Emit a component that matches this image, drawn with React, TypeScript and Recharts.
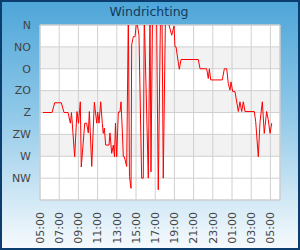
import React from "react";
import { LineChart, Line, XAxis, YAxis, CartesianGrid, ReferenceArea } from "recharts";

// hours after 05:00
const hours = [
  0.31, 1.25, 1.53, 2.22, 2.5, 2.92, 3.16, 3.28, 3.61, 3.85, 4.01, 4.2, 4.3, 4.66, 4.86, 5.03, 5.14, 5.39, 5.66, 5.91,
  6.01, 6.15, 6.32, 6.49, 6.59, 6.7, 6.84, 7.19, 7.29, 7.47, 7.64, 7.76, 7.86, 7.99, 8.16, 8.33, 8.44, 8.57, 8.68, 8.78,
  9.03, 9.2, 9.32, 9.48, 9.55, 9.72, 9.9, 10.07, 10.31, 10.59, 10.76, 10.86, 11.28, 11.46, 11.56, 11.72, 12.14, 12.32, 12.55, 12.71,
  12.84, 13.07, 13.47, 13.72, 13.96, 14.06, 14.17, 14.51, 14.69, 16.49, 16.67, 17.36, 17.53, 17.64, 17.78, 18.99, 19.2, 19.45, 19.61, 19.79,
  19.9, 20.07, 20.31, 20.66, 20.83, 21.01, 21.18, 21.35, 22.32, 22.47, 22.74, 22.92, 23.16, 23.36, 23.61, 23.78, 23.96, 24.14,
];

// wind direction in degrees (N = 0 at top)
const directions = [
  180, 180, 160, 160, 180, 180, 202, 180, 271, 178, 202, 158, 292, 202, 202, 222, 178, 291, 159, 202,
  179, 202, 158, 202, 223, 212, 247, 247, 222, 264, 247, 271, 202, 271, 179, 179, 158, 216, 271, 271,
  291, -21, 312, 336, 41, 24, 24, -10, 21, 315, 315, -21, 315, -21, 302, -21, -21, 339, -21, -21,
  315, -21, 2, 21, 2, 45, 45, 91, 71, 71, 90, 90, 110, 90, 113, 113, 90, 90, 120, 134,
  117, 137, 137, 178, 158, 178, 158, 178, 178, 199, 271, 199, 158, 223, 178, 195, 223, 202,
];

const yTicks = [0, 45, 90, 135, 180, 225, 270, 315];
const yLabels = ["N", "NO", "O", "ZO", "Z", "ZW", "W", "NW"];

const xTicks = [0, 2, 4, 6, 8, 10, 12, 14, 16, 18, 20, 22, 24];
const xLabels = ["05:00", "07:00", "09:00", "11:00", "13:00", "15:00", "17:00", "19:00", "21:00", "23:00", "01:00", "03:00", "05:00"];

const data = hours.map((h, i) => ({ h, d: directions[i] }));

const FONT = "'DejaVu Sans', Verdana, sans-serif";

const YTick = (props: any) => {
  const { y, payload } = props;
  const idx = yTicks.indexOf(payload.value);
  return (
    <text x={31} y={y} dy="0.35em" textAnchor="end" fontSize={11} fontFamily={FONT} fill="#444">
      {yLabels[idx]}
    </text>
  );
};

const XTick = (props: any) => {
  const { x, payload } = props;
  const idx = xTicks.indexOf(payload.value);
  return (
    <text
      x={x}
      y={212}
      dy="0.35em"
      textAnchor="end"
      transform={`rotate(-90, ${x}, 212)`}
      fontSize={11}
      fontFamily={FONT}
      fill="#444"
    >
      {xLabels[idx]}
    </text>
  );
};

export default function App() {
  return (
    <div
      style={{
        position: "fixed",
        left: 0,
        top: 0,
        width: 300,
        height: 250,
        boxSizing: "border-box",
        border: "2px solid #0b3d6e",
        background: "linear-gradient(to bottom, #4ea6d9 0%, #8fc8e8 45%, #f6fafd 100%)",
        overflow: "hidden",
      }}
    >
      <div style={{ position: "absolute", left: -2, top: -2 }}>
        <LineChart width={300} height={250} data={data} margin={{ top: 25, right: 20, bottom: 0, left: 0 }}>
          <CartesianGrid
            stroke="#d0d0d0"
            fill="#ffffff"
            horizontalFill={["#ffffff", "#f2f2f2", "#ffffff", "#f2f2f2", "#ffffff", "#f2f2f2", "#ffffff", "#ffffff"]}
          />
          <XAxis
            dataKey="h"
            type="number"
            domain={[0, 25]}
            ticks={xTicks}
            height={50}
            axisLine={false}
            tickLine={false}
            tick={<XTick />}
            interval={0}
          />
          <YAxis
            dataKey="d"
            type="number"
            domain={[0, 360]}
            reversed
            allowDataOverflow
            ticks={yTicks}
            width={40}
            axisLine={false}
            tickLine={false}
            tick={<YTick />}
            interval={0}
          />
          <ReferenceArea x1={0} x2={25} y1={0} y2={360} fill="none" stroke="#cccccc" strokeWidth={1} ifOverflow="extendDomain" />
          <Line
            type="linear"
            dataKey="d"
            stroke="#ff0000"
            strokeWidth={1}
            dot={false}
            isAnimationActive={false}
          />
        </LineChart>
        <div
          style={{
            position: "absolute",
            left: 0,
            top: 4,
            width: 298,
            textAlign: "center",
            fontFamily: FONT,
            fontSize: 12.5,
            color: "#123a5c",
            lineHeight: "16px",
          }}
        >
          Windrichting
        </div>
      </div>
    </div>
  );
}
